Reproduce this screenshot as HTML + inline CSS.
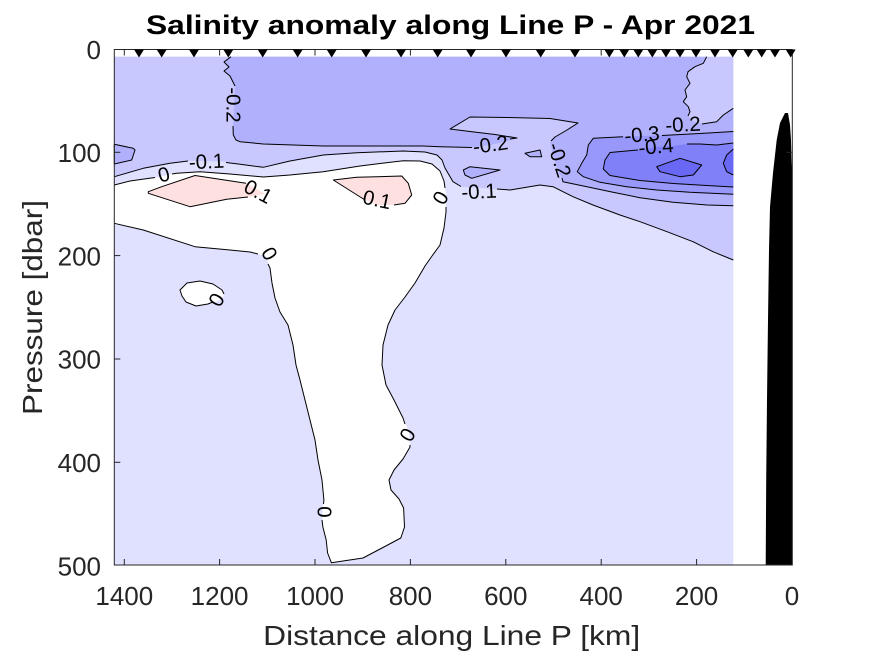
<!DOCTYPE html>
<html>
<head>
<meta charset="utf-8">
<style>
html,body{margin:0;padding:0;background:#fff;}
svg{display:block;}
</style>
</head>
<body>
<svg width="875" height="656" viewBox="0 0 875 656" xmlns="http://www.w3.org/2000/svg">
<rect x="0" y="0" width="875" height="656" fill="#fff"/>

<!-- base layer: 0 to -0.1 -->
<rect x="114.3" y="56.7" width="619" height="508.3" fill="#e0e0ff"/>

<!-- -0.1 to -0.2 -->
<polygon fill="#c8c8ff" points="114.3,56.7 733.3,56.7 733.3,260 713,251.7 693,241.7 667,231.7 640,221.7 620,215 593,205 573,196.7 553,186.7 540,185 510,190 495,189 463,187 453,181.7 445,168 442,160 437,155 425,152 403.3,151 356.7,152.7 323.3,155 290,161 263.3,167.3 238.3,164 223,161.5 190,160.7 170,163.3 143.3,168.3 130,172 114.3,176.7"/>

<!-- -0.2 to -0.3 -->
<polygon fill="#b0b0fd" points="231,56.7 706.7,56.7 703.3,63.3 695,66.7 688,71.7 686.7,76.7 690,83.3 685,90 686.7,96.7 683.3,101.7 688.3,106.7 690,111.7 688,116 692,121 703,124 716.7,121.7 723.3,115 733.3,108.3 733.3,205.7 707,205 673,202.3 640,197.7 613,192.3 587,186.7 563,181.7 558,170 553,155 550,142 555,137 567,130 578,123 550,118.5 507,117.5 470,117 450,129 470,131.5 495,134.5 517,138 508,141 490,145 472,147.5 440,146.7 423,146 366.7,146 323.3,146 263.3,144 240,141.7 236,140 233.3,135 233,126 235,86 233,82 230,76 224,71 229,67 224,62"/>
<polygon fill="#b0b0fd" points="114.3,144.3 133.3,148.3 135,150 131.7,160 114.3,164"/>
<polygon fill="#b0b0fd" points="525,153.3 540,150 541.7,156.7 530,156.7"/>
<polygon fill="#b0b0fd" points="463.3,170 470,166.7 500,170 471.7,178.3 465,175"/>

<!-- -0.3 to -0.4 -->
<polygon fill="#9898fb" points="733.3,131.5 700,133.5 677,134.5 660,135.5 642,136 623,136.7 593.3,138.3 588.3,145 586.7,155 581.7,163.3 577.3,171.7 583.3,176.7 600,182.3 626.7,186.7 656.7,190 690,192.3 733.3,194.3"/>
<!-- -0.4 to -0.5 -->
<polygon fill="#8080f8" points="733.3,143 716.7,145 700,144 687,144 673,146 656,147 640,150 610,152.5 605,160 603.3,169 610,175.5 640,180.5 673.3,183.5 706.7,185.5 733.3,187"/>
<!-- < -0.5 -->
<polygon fill="#6868f4" points="656.7,166.7 680,158.3 701.7,165 693.3,175 680,176.7 660,171.7"/>
<polygon fill="#6868f4" points="733.3,149 726.7,155 723.3,163.3 726.7,171.7 733.3,175"/>

<!-- 0 to 0.1 (white) -->
<polygon fill="#ffffff" points="114.3,185 130,181 156,177.5 176.7,173.3 200,171.7 230,174 263.3,177 290,175 323.3,171.7 360,166 403.3,160.7 420,161 432,164 440,171 444,181 446,195 446,212 444,228 440,245 432,256 425,266 415,283 405,297 395,310 388,325 383,345 382,365 386,385 394,400 403,418 409,432 410,447 403,459 394,470 389,480 391,490 399,499 403.6,508 404.5,527 400.8,538 382,548 363,558 331.4,562.7 327.6,553 326.2,540 322.9,527 322,515 323.9,500 322,480 318,460 315,440 310,420 305,400 300,380 296,365 293,345 288,325 280,312 275,298 272,283 270,268 266,256 250,252 230,250 195,246.7 143.3,230 114.3,223.3"/>
<polygon fill="#ffffff" points="180,290 187,283 200,281 213,284 222,290 224,296 218,301 208,304 196,306 186,302 182,296"/>
<!-- pink 0.1 to 0.2 -->
<polygon fill="#ffe0e0" points="148.3,191.7 161.7,186.7 195,175.5 246.7,183.3 258,190 266,194 248,197 226.7,199.3 190,206.7 148.3,193.3"/>
<polygon fill="#ffe0e0" points="333.3,180 356.7,177.3 401.7,176 408.3,183.3 411.7,195 405,203.3 392,205 378,205 365,200"/>

<!-- contour lines -->
<g fill="none" stroke="#000" stroke-width="1" stroke-linejoin="round">
<polyline points="114.3,176.7 143.3,168.3 170,163.3 188,161"/>
<polyline points="226,162.5 238.3,164 263.3,167.3 290,161 323.3,155 356.7,152.7 403.3,151 425,152 437,155 442,160 445,168 453,181.7 461,186.5"/>
<polyline points="497,189 510,190 540,185 553,186.7 573,196.7 593,205 620,215 640,221.7 667,231.7 693,241.7 713,251.7 733.3,260"/>
<polyline points="231,56.7 224,62 229,67 224,71 230,76 233,82 235,86"/>
<polyline points="233,126 233.3,135 236,140 240,141.7 263.3,144 323.3,146 366.7,146 423,146 440,146.7 472,147.5"/>
<polyline points="510,139 517,138 495,134.5 470,131.5 450,129 470,117 507,117.5 550,118.5 578,123 567,130 555,137 551,141"/>
<polyline points="562,178 563,181.7 587,186.7 613,192.3 640,197.7 673,202.3 707,205 733.3,205.7"/>
<polyline points="706.7,56.7 703.3,63.3 695,66.7 688,71.7 686.7,76.7 690,83.3 685,90 686.7,96.7 683.3,101.7 688.3,106.7 690,111.7 688,116"/>
<polyline points="702,124 716.7,121.7 723.3,115 733.3,108.3"/>
<polygon points="114.3,144.3 133.3,148.3 135,150 131.7,160 114.3,164"/>
<polygon points="525,153.3 540,150 541.7,156.7 530,156.7"/>
<polygon points="463.3,170 470,166.7 500,170 471.7,178.3 465,175"/>
<polyline points="733.3,131.5 700,133.5 662,135.5"/>
<polyline points="623,136.7 593.3,138.3 588.3,145 586.7,155 581.7,163.3 577.3,171.7 583.3,176.7 600,182.3 626.7,186.7 656.7,190 690,192.3 733.3,194.3"/>
<polyline points="733.3,143 716.7,145 700,144 687,144"/>
<polyline points="638,150 610,152.5 605,160 603.3,169 610,175.5 640,180.5 673.3,183.5 706.7,185.5 733.3,187"/>
<polygon points="656.7,166.7 680,158.3 701.7,165 693.3,175 680,176.7 660,171.7"/>
<polyline points="733.3,149 726.7,155 723.3,163.3 726.7,171.7 733.3,175"/>
<polyline points="114.3,185 130,181 155,177.5"/>
<polyline points="172,174 176.7,173.3 200,171.7 230,174 263.3,177 290,175 323.3,171.7 360,166 403.3,160.7 420,161 432,164 440,171 444,181 445,188"/>
<polyline points="446,207 446,212 444,228 440,245 432,256 425,266 415,283 405,297 395,310 388,325 383,345 382,365 386,385 394,400 403,418 405,424"/>
<polyline points="410,445 410,447 403,459 394,470 389,480 391,490 399,499 403.6,508 404.5,527 400.8,538 382,548 363,558 331.4,562.7 327.6,553 326.2,540 322.9,527 322,520"/>
<polyline points="323.5,504 323.9,500 322,480 318,460 315,440 310,420 305,400 300,380 296,365 293,345 288,325 280,312 275,298 272,283 270,268 268,264"/>
<polyline points="258,254 250,252 230,250 195,246.7 143.3,230 114.3,223.3"/>
<polyline points="213,302 208,304 196,306 186,302 182,296 180,290 187,283 200,281 213,284 222,290 224,294"/>
<polyline points="246,183.3 195,175.5 161.7,186.7 148.3,191.7 148.3,193.3 190,206.7 226.7,199.3 248,197"/>
<polyline points="365,200 333.3,180 356.7,177.3 401.7,176 408.3,183.3 411.7,195 405,203.3 394,205"/>
</g>

<!-- contour labels -->
<g font-family="'Liberation Sans', Arial, sans-serif" font-size="20.5" fill="#000" text-anchor="middle" dominant-baseline="central">
<text x="233" y="105" transform="rotate(90 233 105)">-0.2</text>
<text x="206.5" y="162" transform="rotate(-3 206.5 162)">-0.1</text>
<text x="164" y="175" transform="rotate(-15 164 175)">0</text>
<text x="258" y="192" transform="rotate(28 258 192)">0.1</text>
<text x="377" y="200" transform="rotate(12 377 200)">0.1</text>
<text x="441" y="198" transform="rotate(-60 441 198)">0</text>
<text x="490.5" y="145" transform="rotate(-8 490.5 145)">-0.2</text>
<text x="559" y="160" transform="rotate(72 559 160)">-0.2</text>
<text x="479" y="192" transform="rotate(-3 479 192)">-0.1</text>
<text x="642" y="135" transform="rotate(-5 642 135)">-0.3</text>
<text x="683" y="125" transform="rotate(-3 683 125)">-0.2</text>
<text x="656" y="147" transform="rotate(-5 656 147)">-0.4</text>
<text x="217" y="300" transform="rotate(-60 217 300)">0</text>
<text x="269" y="254" transform="rotate(60 269 254)">0</text>
<text x="408" y="435" transform="rotate(-60 408 435)">0</text>
<text x="324" y="512" transform="rotate(90 324 512)">0</text>
</g>

<!-- bathymetry -->
<polygon fill="#000" points="785,113 788,113 790,125 791,140 791.5,160 792.3,172 792.3,565 765.7,565 766.2,480 767,400 768,320 769,250 770,207 773,173 776.7,140 780,123"/>

<!-- axes box -->
<rect x="114.3" y="49.5" width="678" height="515.5" fill="none" stroke="#262626" stroke-width="1"/>
<g stroke="#262626" stroke-width="1">
<line x1="124.3" y1="565" x2="124.3" y2="559"/>
<line x1="219.6" y1="565" x2="219.6" y2="559"/>
<line x1="315" y1="565" x2="315" y2="559"/>
<line x1="410.4" y1="565" x2="410.4" y2="559"/>
<line x1="505.8" y1="565" x2="505.8" y2="559"/>
<line x1="601.2" y1="565" x2="601.2" y2="559"/>
<line x1="696.6" y1="565" x2="696.6" y2="559"/>
<line x1="124.3" y1="49.5" x2="124.3" y2="55.5"/>
<line x1="219.6" y1="49.5" x2="219.6" y2="55.5"/>
<line x1="315" y1="49.5" x2="315" y2="55.5"/>
<line x1="410.4" y1="49.5" x2="410.4" y2="55.5"/>
<line x1="505.8" y1="49.5" x2="505.8" y2="55.5"/>
<line x1="601.2" y1="49.5" x2="601.2" y2="55.5"/>
<line x1="696.6" y1="49.5" x2="696.6" y2="55.5"/>
<line x1="114.3" y1="152.3" x2="120.3" y2="152.3"/>
<line x1="114.3" y1="255.6" x2="120.3" y2="255.6"/>
<line x1="114.3" y1="359" x2="120.3" y2="359"/>
<line x1="114.3" y1="462.3" x2="120.3" y2="462.3"/>
<line x1="792.3" y1="152.3" x2="786.3" y2="152.3"/>
</g>

<!-- station markers -->
<g fill="#000">
<polygon points="134,49.5 144,49.5 139,57.5"/>
<polygon points="156.7,49.5 166.7,49.5 161.7,57.5"/>
<polygon points="189,49.5 199,49.5 194,57.5"/>
<polygon points="223.3,49.5 233.3,49.5 228.3,57.5"/>
<polygon points="257.7,49.5 267.7,49.5 262.7,57.5"/>
<polygon points="292.7,49.5 302.7,49.5 297.7,57.5"/>
<polygon points="326.7,49.5 336.7,49.5 331.7,57.5"/>
<polygon points="361,49.5 371,49.5 366,57.5"/>
<polygon points="396,49.5 406,49.5 401,57.5"/>
<polygon points="432.7,49.5 442.7,49.5 437.7,57.5"/>
<polygon points="466,49.5 476,49.5 471,57.5"/>
<polygon points="501,49.5 511,49.5 506,57.5"/>
<polygon points="535.7,49.5 545.7,49.5 540.7,57.5"/>
<polygon points="570,49.5 580,49.5 575,57.5"/>
<polygon points="604.3,49.5 614.3,49.5 609.3,57.5"/>
<polygon points="619.3,49.5 629.3,49.5 624.3,57.5"/>
<polygon points="633.3,49.5 643.3,49.5 638.3,57.5"/>
<polygon points="647.3,49.5 657.3,49.5 652.3,57.5"/>
<polygon points="661,49.5 671,49.5 666,57.5"/>
<polygon points="675,49.5 685,49.5 680,57.5"/>
<polygon points="691,49.5 701,49.5 696,57.5"/>
<polygon points="710,49.5 720,49.5 715,57.5"/>
<polygon points="727.7,49.5 737.7,49.5 732.7,57.5"/>
<polygon points="743.3,49.5 753.3,49.5 748.3,57.5"/>
<polygon points="756.7,49.5 766.7,49.5 761.7,57.5"/>
<polygon points="770,49.5 780,49.5 775,57.5"/>
<polygon points="785.7,49.5 795.7,49.5 790.7,57.5"/>
</g>

<!-- tick labels -->
<g font-family="'Liberation Sans', Arial, sans-serif" font-size="26" fill="#262626" text-anchor="middle">
<text x="124.3" y="605">1400</text>
<text x="219.6" y="605">1200</text>
<text x="315" y="605">1000</text>
<text x="410.4" y="605">800</text>
<text x="505.8" y="605">600</text>
<text x="601.2" y="605">400</text>
<text x="696.6" y="605">200</text>
<text x="792" y="605">0</text>
</g>
<g font-family="'Liberation Sans', Arial, sans-serif" font-size="26" fill="#262626" text-anchor="end">
<text x="101" y="59">0</text>
<text x="101" y="162">100</text>
<text x="101" y="265.3">200</text>
<text x="101" y="368.7">300</text>
<text x="101" y="472">400</text>
<text x="101" y="575.3">500</text>
</g>

<!-- axis labels -->
<text x="451.7" y="645" font-family="'Liberation Sans', Arial, sans-serif" font-size="28" fill="#262626" text-anchor="middle" textLength="377" lengthAdjust="spacingAndGlyphs">Distance along Line P [km]</text>
<text transform="translate(42,307.5) rotate(-90)" x="0" y="0" font-family="'Liberation Sans', Arial, sans-serif" font-size="28" fill="#262626" text-anchor="middle" textLength="215" lengthAdjust="spacingAndGlyphs">Pressure [dbar]</text>

<!-- title -->
<text x="450.5" y="34" font-family="'Liberation Sans', Arial, sans-serif" font-weight="bold" font-size="27" fill="#000" text-anchor="middle" textLength="609" lengthAdjust="spacingAndGlyphs">Salinity anomaly along Line P - Apr 2021</text>
</svg>
</body>
</html>
